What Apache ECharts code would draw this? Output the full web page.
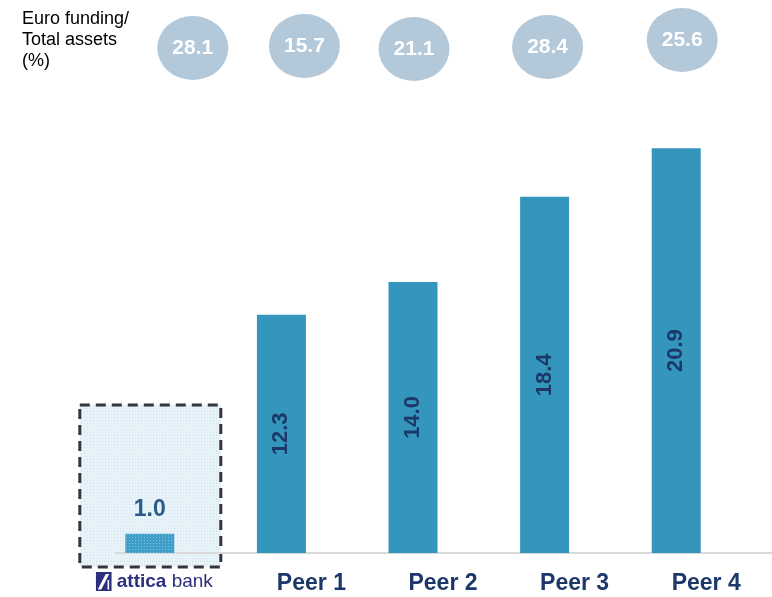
<!DOCTYPE html>
<html><head><meta charset="utf-8">
<script src="https://cdn.jsdelivr.net/npm/echarts@6/dist/echarts.min.js"></script>
<style>html,body{margin:0;padding:0;background:#fff}#c{width:772px;height:597px}</style>
</head><body><div id="c"></div>
<script>
var categories = ['attica bank', 'Peer 1', 'Peer 2', 'Peer 3', 'Peer 4'];
var values = [1.0, 12.3, 14.0, 18.4, 20.9];
var euroFunding = [28.1, 15.7, 21.1, 28.4, 25.6];
var titleLines = ['Euro funding/', 'Total assets', '(%)'];

var FONT = '"Liberation Sans", Arial, sans-serif';
var NAVY = '#1b3868';
var bubbleOffsets = [[43, 0], [23, -2], [1, 1], [3, -1], [6, -8]];

function dotPattern(base, dot) {
  var c = document.createElement('canvas');
  c.width = 3; c.height = 3;
  var g = c.getContext('2d');
  g.fillStyle = base; g.fillRect(0, 0, 3, 3);
  g.fillStyle = dot; g.fillRect(0, 0, 1, 1);
  return {image: c, repeat: 'repeat'};
}

var logoSvg = 'data:image/svg+xml;utf8,' + encodeURIComponent(
  '<svg xmlns="http://www.w3.org/2000/svg" width="16" height="19">' +
  '<rect width="16" height="19" fill="#2b2f7e"/>' +
  '<polygon points="2,17.5 5.5,17.5 13.5,2 10,2" fill="#ffffff"/>' +
  '<rect x="11.8" y="8" width="1.6" height="9.5" fill="#ffffff"/>' +
  '</svg>');

var chart = echarts.init(document.getElementById('c'), null, {renderer: 'canvas'});

var barData = values.map(function (v, i) {
  if (i === 0) {
    return {
      value: v,
      itemStyle: {color: dotPattern('#3f9fc8', '#7cc0de')},
      label: {show: true, position: 'top', distance: 12, rotate: 0,
        color: '#2b5b88', fontSize: 23, fontWeight: 'bold', fontFamily: FONT,
        formatter: function (p) { return p.value.toFixed(1); }}
    };
  }
  return {value: v};
});

var option = {
  animation: false,
  backgroundColor: '#ffffff',
  grid: [
    {left: 84, right: 30, top: 127, bottom: 44},
    {left: 84, right: 30, top: 0, height: 96}
  ],
  xAxis: [
    {type: 'category', gridIndex: 0, data: categories,
      axisLine: {show: false}, axisTick: {show: false},
      axisLabel: {
        interval: 0, margin: 19, fontFamily: FONT,
        formatter: function (v) {
          if (v === 'attica bank') return '{s|}{logo|}{a|attica}{b| bank}';
          return '{p|' + v + '}';
        },
        rich: {
          p: {fontSize: 23, fontWeight: 'bold', color: NAVY, fontFamily: FONT, padding: [0, 0, 0, 60]},
          s: {width: 9, height: 19},
          logo: {width: 16, height: 19, backgroundColor: {image: logoSvg}},
          a: {fontSize: 19, fontWeight: 'bold', color: '#2b2f7e', fontFamily: FONT, padding: [0, 0, 0, 5]},
          b: {fontSize: 19, color: '#2b2f7e', fontFamily: FONT}
        }
      }},
    {type: 'category', gridIndex: 1, data: categories, show: false}
  ],
  yAxis: [
    {type: 'value', gridIndex: 0, min: 0, max: 22, show: false, splitLine: {show: false}},
    {type: 'value', gridIndex: 1, min: 0, max: 2, show: false, splitLine: {show: false}}
  ],
  series: [
    {
      type: 'bar', xAxisIndex: 0, yAxisIndex: 0, barWidth: 49, z: 5,
      data: barData,
      itemStyle: {color: '#3596bd'},
      label: {show: true, position: 'inside', rotate: 90, color: NAVY,
        fontSize: 22, fontWeight: 'bold', fontFamily: FONT,
        formatter: function (p) { return p.value.toFixed(1); }}
    },
    {
      type: 'scatter', xAxisIndex: 1, yAxisIndex: 1,
      symbol: 'circle', symbolSize: [71, 64],
      itemStyle: {color: '#b3c8d9', opacity: 1},
      data: euroFunding.map(function (v, i) {
        return {value: [categories[i], 1], symbolOffset: bubbleOffsets[i]};
      }),
      label: {show: true, position: 'inside', color: '#ffffff', fontSize: 21,
        fontWeight: 'bold', fontFamily: FONT,
        formatter: function (p) { return euroFunding[p.dataIndex].toFixed(1); }}
    }
  ]
};
chart.setOption(option);

var x0 = chart.convertToPixel({xAxisIndex: 0}, categories[0]);
var yBase = chart.convertToPixel({yAxisIndex: 0}, 0);

chart.setOption({
  graphic: [
    {type: 'rect', z: 1, shape: {x: x0 - 70, y: 405, width: 141, height: 162},
      style: {fill: dotPattern('#e8f3f9', '#cfe6f1'), stroke: '#35353f', lineWidth: 3, lineDash: [10, 6]}},
    {type: 'line', z: 2, shape: {x1: 115, y1: yBase, x2: 772, y2: yBase},
      style: {stroke: '#d9d9d9', lineWidth: 2}},
    {type: 'text', left: 22, top: 9, z: 10,
      style: {text: titleLines.join('\n'), fontSize: 18, lineHeight: 21,
        fill: '#000000', fontFamily: FONT}}
  ]
});
</script>
</body></html>
